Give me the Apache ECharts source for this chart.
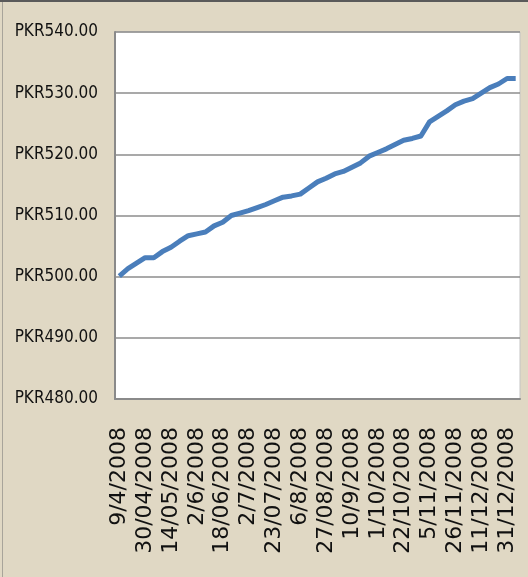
<!DOCTYPE html>
<html>
<head>
<meta charset="utf-8">
<script src="https://cdn.jsdelivr.net/npm/echarts@6/dist/echarts.min.js"></script>
<style>
  html, body { margin: 0; padding: 0; background: #e0d8c4; }
  #wrap { position: absolute; left: 0; top: 0; width: 528px; height: 577px;
          background: #e0d8c4; }
  #frameTop { position: absolute; left: 0; top: 0; width: 528px; height: 2px; background: #5a5a5a; }
  #frameLeft { position: absolute; left: 2px; top: 2px; width: 1px; height: 575px; background: #a8a49a; }
  #chart { position: absolute; left: 0; top: 0; width: 528px; height: 577px; }
</style>
</head>
<body>
<div id="wrap">
  <div id="chart"></div>
  <div id="frameTop"></div>
  <div id="frameLeft"></div>
</div>
<script>
// Dates (category axis); every third one is labelled
const dates = [
  '9/4/2008', '16/04/2008', '23/04/2008',
  '30/04/2008', '5/5/2008', '9/5/2008',
  '14/05/2008', '21/05/2008', '28/05/2008',
  '2/6/2008', '9/6/2008', '13/06/2008',
  '18/06/2008', '23/06/2008', '27/06/2008',
  '2/7/2008', '9/7/2008', '16/07/2008',
  '23/07/2008', '28/07/2008', '1/8/2008',
  '6/8/2008', '13/08/2008', '20/08/2008',
  '27/08/2008', '1/9/2008', '5/9/2008',
  '10/9/2008', '17/09/2008', '24/09/2008',
  '1/10/2008', '8/10/2008', '15/10/2008',
  '22/10/2008', '27/10/2008', '31/10/2008',
  '5/11/2008', '12/11/2008', '19/11/2008',
  '26/11/2008', '1/12/2008', '5/12/2008',
  '11/12/2008', '17/12/2008', '24/12/2008',
  '31/12/2008', '7/1/2009'
];

// Price values (PKR)
const prices = [
  500.1, 501.3, 502.2,
  503.1, 503.1, 504.1,
  504.8, 505.8, 506.7,
  507.0, 507.3, 508.3,
  508.9, 510.0, 510.4,
  510.8, 511.3, 511.8,
  512.4, 513.0, 513.2,
  513.5, 514.5, 515.5,
  516.1, 516.8, 517.2,
  517.9, 518.6, 519.7,
  520.3, 520.9, 521.6,
  522.3, 522.6, 523.0,
  525.3, 526.2, 527.1,
  528.1, 528.7, 529.1,
  530.0, 530.9, 531.5,
  532.4, 532.4
];

// Y axis range / ticks
const yMin = 480;
const yMax = 540;
const yStep = 10;

const chart = echarts.init(document.getElementById('chart'), null, { renderer: 'canvas' });
chart.setOption({
  backgroundColor: 'transparent',
  animation: false,
  grid: {
    left: 115, top: 32, right: 8, bottom: 178,
    show: true, backgroundColor: '#ffffff', borderColor: '#c4c4c4', borderWidth: 1
  },
  xAxis: {
    type: 'category',
    data: dates,
    boundaryGap: true,
    axisLine: { show: true, lineStyle: { color: '#8a8a8a', width: 2 } },
    axisTick: { show: false },
    splitLine: { show: false },
    axisLabel: {
      interval: 2,
      rotate: 90,
      margin: 28,
      color: '#111',
      fontFamily: 'DejaVu Sans',
      fontSize: 22
    }
  },
  yAxis: {
    type: 'value',
    min: yMin,
    max: yMax,
    interval: yStep,
    axisLine: { show: true, lineStyle: { color: '#8a8a8a', width: 2 } },
    axisTick: { show: false },
    splitLine: { show: true, lineStyle: { color: '#8c8c8c', width: 1.5 } },
    axisLabel: {
      margin: 17,
      color: '#111',
      fontFamily: '"DejaVu Sans Condensed", "Liberation Sans Narrow", sans-serif',
      fontSize: 17,
      formatter: v => 'PKR' + v.toFixed(2)
    }
  },
  series: [{
    type: 'line',
    data: prices,
    showSymbol: false,
    symbol: 'none',
    lineStyle: { color: '#4a7ebb', width: 5, cap: 'butt', join: 'round' }
  }]
});
</script>
</body>
</html>
